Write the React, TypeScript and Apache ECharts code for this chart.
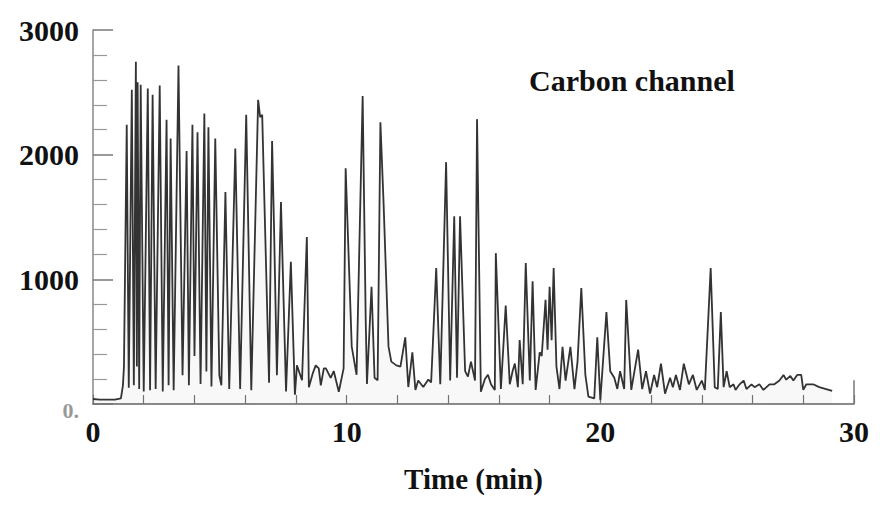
import React, { useEffect, useRef } from "react";
import * as echarts from "echarts";

const chartTitle = "Carbon channel";
const xAxisName = "Time (min)";

// retention time (min)
const timeMin = [
  0, 0.27, 0.86, 1.10, 1.18, 1.22, 1.33, 1.41, 1.53, 1.61, 1.69, 1.73, 1.76, 1.82, 1.88, 2.00,
  2.16, 2.25, 2.35, 2.47, 2.63, 2.75, 2.90, 2.98, 3.06, 3.18, 3.37, 3.53, 3.69, 3.78, 3.92, 4.00,
  4.12, 4.24, 4.39, 4.47, 4.55, 4.67, 4.82, 4.98, 5.06, 5.22, 5.37, 5.61, 5.80, 6.04, 6.24, 6.51,
  6.59, 6.67, 6.94, 7.06, 7.14, 7.25, 7.41, 7.61, 7.80, 7.96, 8.04, 8.24, 8.43, 8.51, 8.67, 8.78,
  8.90, 8.98, 9.10, 9.18, 9.37, 9.49, 9.69, 9.88, 9.96, 10.20, 10.39, 10.63, 10.75, 10.80, 10.98, 11.10,
  11.22, 11.33, 11.45, 11.65, 11.76, 11.96, 12.12, 12.31, 12.43, 12.59, 12.71, 12.82, 13.02, 13.22, 13.33, 13.53,
  13.69, 13.92, 14.08, 14.24, 14.35, 14.47, 14.67, 14.78, 14.90, 15.06, 15.14, 15.29, 15.45, 15.57, 15.69, 15.84,
  15.88, 16.08, 16.27, 16.43, 16.55, 16.63, 16.75, 16.82, 16.94, 17.06, 17.22, 17.33, 17.45, 17.61, 17.69, 17.84,
  17.92, 18.00, 18.08, 18.16, 18.27, 18.39, 18.51, 18.63, 18.82, 18.98, 19.10, 19.25, 19.41, 19.53, 19.76, 19.88,
  20.00, 20.24, 20.39, 20.55, 20.67, 20.78, 20.94, 21.02, 21.22, 21.49, 21.65, 21.80, 21.96, 22.12, 22.24, 22.39,
  22.55, 22.75, 22.86, 22.98, 23.14, 23.29, 23.49, 23.65, 23.80, 24.00, 24.12, 24.35, 24.51, 24.63, 24.75, 24.86,
  24.98, 25.10, 25.25, 25.33, 25.49, 25.65, 25.76, 25.96, 26.08, 26.27, 26.43, 26.67, 26.86, 27.06, 27.22, 27.33,
  27.49, 27.61, 27.76, 27.92, 28.00, 28.12, 28.39, 28.63, 28.90, 29.14,
];

// detector signal
const signal = [
  40, 35, 35, 45, 150, 300, 2240, 130, 2520, 150, 2745, 300, 2580, 120, 2560, 100,
  2530, 110, 2480, 120, 2555, 100, 2280, 150, 2130, 110, 2715, 230, 2030, 150, 2240, 385,
  2180, 160, 2330, 260, 2220, 140, 2130, 230, 150, 1700, 120, 2050, 120, 2320, 110, 2440,
  2300, 2320, 170, 2110, 1390, 230, 1620, 100, 1140, 75, 310, 190, 1340, 135, 250, 310,
  285, 150, 286, 286, 210, 264, 98, 286, 1890, 460, 234, 2470, 686, 160, 940, 210,
  190, 2260, 1640, 460, 340, 310, 300, 535, 136, 415, 113, 188, 136, 196, 173, 1090,
  158, 1940, 188, 1505, 211, 1505, 264, 220, 340, 188, 2285, 98, 200, 234, 158, 113,
  1210, 121, 790, 158, 271, 324, 135, 513, 158, 1130, 188, 985, 113, 415, 385, 835,
  436, 940, 511, 1090, 300, 120, 459, 188, 459, 120, 338, 930, 234, 60, 45, 535,
  30, 737, 263, 211, 121, 263, 120, 835, 113, 436, 120, 263, 83, 233, 135, 323,
  83, 211, 135, 233, 113, 323, 158, 233, 113, 188, 113, 1090, 135, 120, 737, 135,
  263, 135, 158, 113, 158, 188, 120, 158, 135, 158, 113, 158, 158, 188, 233, 195,
  225, 188, 233, 233, 113, 158, 158, 135, 120, 105,
];

const yTicks = [0, 1000, 2000, 3000];
const xTicks = [0, 10, 20, 30];

export default function App() {
  const ref = useRef<HTMLDivElement>(null);
  useEffect(() => {
    if (!ref.current) return;
    const chart = echarts.init(ref.current, undefined, { renderer: "svg" });
    const data = timeMin.map((t, i) => [t, signal[i]]);
    const serif = "'Liberation Serif', 'Times New Roman', serif";
    chart.setOption({
      animation: false,
      backgroundColor: "#ffffff",
      title: {
        text: chartTitle,
        left: 516,
        top: 52,
        textStyle: { fontFamily: serif, fontSize: 30, fontWeight: "bold", color: "#111" },
      },
      grid: { left: 85, right: 14, top: 22, bottom: 70, containLabel: false },
      xAxis: {
        type: "value",
        min: xTicks[0],
        max: xTicks[xTicks.length - 1],
        interval: 10,
        name: xAxisName,
        nameLocation: "middle",
        nameGap: 60,
        nameTextStyle: { fontFamily: serif, fontSize: 29, fontWeight: "bold", color: "#111" },
        axisLine: { show: true, lineStyle: { color: "#666", width: 1.5 } },
        axisTick: { show: true, inside: true, length: 9, lineStyle: { color: "#777", width: 1.2 } },
        minorTick: { show: true, splitNumber: 5, length: 9, lineStyle: { color: "#777", width: 1.2 } },
        axisLabel: {
          margin: 12,
          fontFamily: serif,
          fontSize: 30,
          fontWeight: "bold",
          color: "#111",
        },
        splitLine: { show: false },
      },
      yAxis: {
        type: "value",
        min: yTicks[0],
        max: yTicks[yTicks.length - 1],
        interval: 1000,
        axisLine: { show: true, lineStyle: { color: "#888", width: 1.5 } },
        axisTick: { show: true, inside: true, length: 20, lineStyle: { color: "#777", width: 1.5 } },
        minorTick: { show: true, splitNumber: 5, length: 14, lineStyle: { color: "#999", width: 1.2 } },
        axisLabel: {
          margin: 14,
          fontFamily: serif,
          fontSize: 30,
          fontWeight: "bold",
          color: "#111",
          formatter: (v: number) => (v === 0 ? "{z|0.}" : String(v)),
          rich: {
            z: { fontFamily: serif, fontSize: 22, color: "#999", padding: [12, 0, 0, 0] },
          },
        },
        splitLine: { show: false },
      },
      series: [
        {
          type: "line",
          data,
          showSymbol: false,
          symbol: "none",
          lineStyle: { color: "#333", width: 1.8 },
          areaStyle: { color: "rgba(0,0,0,0.04)" },
          markLine: {
            silent: true,
            symbol: "none",
            label: { show: false },
            lineStyle: { color: "#777", width: 1.5, type: "solid" },
            data: [
              [
                { coord: [30, 0] },
                { coord: [30, 190] },
              ],
            ],
          },
        },
      ],
    });
    return () => chart.dispose();
  }, []);
  return <div ref={ref} style={{ width: 864, height: 490 }} />;
}
